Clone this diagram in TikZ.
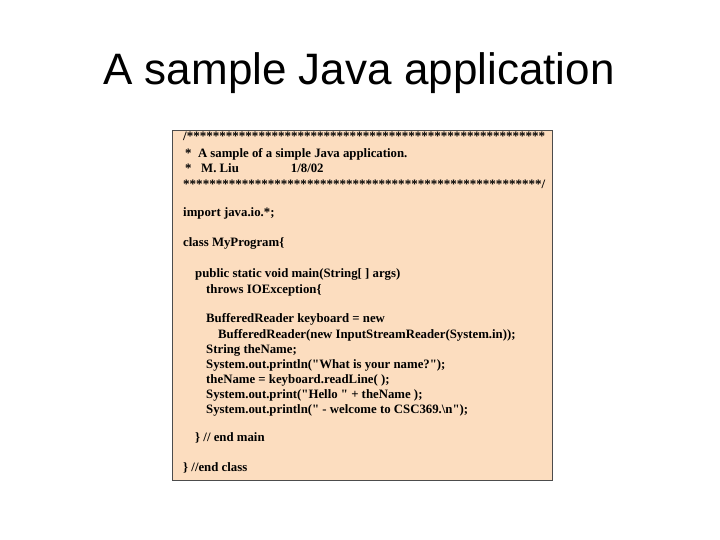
\documentclass[tikz,border=0pt]{standalone}
\usepackage{fontspec}
\setmainfont{Liberation Serif}[Ligatures=TeXOff]
\newfontfamily\titlefont{Liberation Sans}
\usepackage{graphicx}
\definecolor{peach}{HTML}{FCDDBF}
\newcommand{\qq}{"}
\begin{document}
\begin{tikzpicture}[x=1pt,y=-1pt,
  code/.style={anchor=base west,inner sep=0pt,font=\fontsize{12.8}{14}\selectfont\bfseries}]
\useasboundingbox (0,0) rectangle (720,540);
\node[font=\titlefont\fontsize{44}{50}\selectfont,anchor=base] (title) at (359,85) {A sample Java application};
\draw[draw=black!70,fill=peach,line width=1pt] (172,131) rectangle (552,480);
\node[code] (s1) at (183,141) {\resizebox{362pt}{\height}{/*******************************************************}};
\node[code] (l1) at (185,158) {*\ \ A sample of a simple Java application.};
\node[code] (l2) at (185,173) {*\ \ \ M. Liu\hspace{52pt}1/8/02};
\node[code] (s2) at (183,189) {\resizebox{362pt}{\height}{*******************************************************/}};
\node[code] (l3) at (183,217) {import java.io.*;};
\node[code] (l4) at (183,246) {class MyProgram\{};
\node[code] (l5) at (195,277) {public static void main(String[ ] args)};
\node[code] (l6) at (206,293) {throws IOException\{};
\node[code] (l7) at (206,322) {BufferedReader keyboard = new};
\node[code] (l8) at (218,338) {BufferedReader(new InputStreamReader(System.in));};
\node[code] (l9) at (206,353) {String theName;};
\node[code] (l10) at (206,368) {System.out.println(\qq What is your name?\qq);};
\node[code] (l11) at (206,383) {theName = keyboard.readLine( );};
\node[code] (l12) at (206,398) {System.out.print(\qq Hello \qq\ + theName );};
\node[code] (l13) at (206,413) {System.out.println(\qq\ - welcome to CSC369.\textbackslash n\qq);};
\node[code] (l14) at (195,441) {\} // end main};
\node[code] (l15) at (183,471) {\} //end class};
\end{tikzpicture}
\end{document}
